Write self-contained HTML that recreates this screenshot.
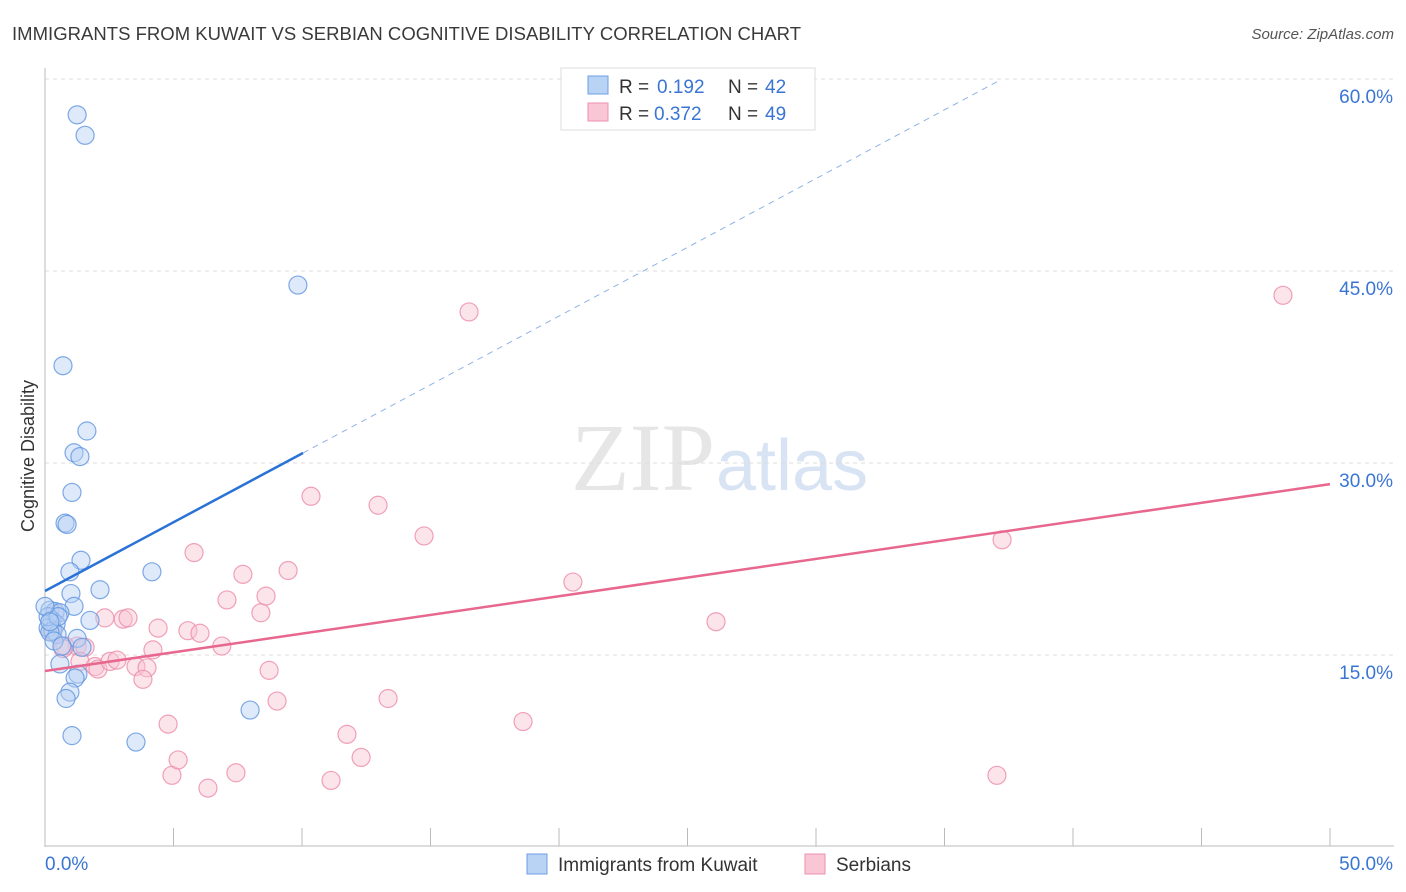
<!DOCTYPE html>
<html><head><meta charset="utf-8"><style>
body{margin:0;background:#fff;font-family:"Liberation Sans",sans-serif;}
svg{display:block}
</style></head><body>
<svg id="c" width="1406" height="892" xmlns="http://www.w3.org/2000/svg">
<text x="12" y="40" font-size="18.5" fill="#3a3a3a" textLength="789">IMMIGRANTS FROM KUWAIT VS SERBIAN COGNITIVE DISABILITY CORRELATION CHART</text>
<text x="1394" y="39" font-size="15" fill="#555" text-anchor="end" font-style="italic">Source: ZipAtlas.com</text>
<text x="715" y="490" font-size="96" fill="#e6e6e6" text-anchor="end" font-family="Liberation Serif">ZIP</text>
<text x="716" y="490" font-size="72" fill="#d8e4f4">atlas</text>
<text x="34" y="456" font-size="18" fill="#333" text-anchor="middle" transform="rotate(-90 34 456)">Cognitive Disability</text>
<g id="grid"></g><g id="marks"></g>
<g>
<rect x="561" y="68" width="254" height="62" fill="#fff" stroke="#ddd"/>
<rect x="588" y="76" width="20" height="18" fill="#b9d3f5" stroke="#6d9ee3"/>
<rect x="588" y="103" width="20" height="18" fill="#f9c6d5" stroke="#ee8fab"/>
<text x="619" y="93" font-size="19" fill="#333">R = </text><text x="657" y="93" font-size="19" fill="#3a75d3">0.192</text>
<text x="728" y="93" font-size="19" fill="#333">N = </text><text x="765" y="93" font-size="19" fill="#3a75d3">42</text>
<text x="619" y="120" font-size="19" fill="#333">R = </text><text x="654" y="120" font-size="19" fill="#3a75d3">0.372</text>
<text x="728" y="120" font-size="19" fill="#333">N = </text><text x="765" y="120" font-size="19" fill="#3a75d3">49</text>
</g>
<g>
<rect x="527" y="854" width="20" height="20" fill="#b9d3f5" stroke="#6d9ee3"/>
<text x="558" y="871" font-size="19" fill="#333">Immigrants from Kuwait</text>
<rect x="805" y="854" width="20" height="20" fill="#f9c6d5" stroke="#ee8fab"/>
<text x="836" y="871" font-size="19" fill="#333">Serbians</text>
</g>
</svg>
<script>
const yTicks=[15,30,45,60];
const xLabels=["0.0%","50.0%"];
const kuwaitX=[1.25,1.56,9.84,0.70,1.63,1.13,1.36,1.05,0.78,0.86,1.40,0.97,4.16,2.14,1.01,1.13,1.75,0.19,0.39,0.58,0.27,0.43,0.12,0.31,0.47,0.19,1.25,1.44,0.58,1.28,1.17,0.97,0.82,1.05,3.54,7.98,0.12,0.51,0.35,0.66,0.0,0.19];
const kuwaitY=[57.2,55.6,43.9,37.6,32.5,30.8,30.5,27.7,25.3,25.2,22.4,21.5,21.5,20.1,19.8,18.8,17.7,18.5,18.4,18.3,17.7,17.4,17.1,16.9,16.6,16.8,16.3,15.6,14.3,13.5,13.2,12.1,11.6,8.7,8.2,10.7,18.0,18.0,16.1,15.7,18.8,17.6];
const serbX=[1.25,0.78,1.56,0.70,1.36,1.95,2.06,2.53,2.80,2.33,3.04,3.23,3.54,3.97,3.81,4.20,4.40,4.79,4.94,5.18,5.56,5.80,6.03,6.34,6.88,7.08,7.43,7.70,8.40,8.60,8.72,9.03,9.46,10.35,11.13,11.75,12.30,12.96,13.35,14.75,16.50,18.60,20.54,26.11,37.04,37.24,48.17,0.39,0.27];
const serbY=[15.7,15.7,15.6,15.5,14.5,14.1,13.9,14.5,14.6,17.9,17.8,17.9,14.1,14.0,13.1,15.4,17.1,9.6,5.6,6.8,16.9,23.0,16.7,4.6,15.7,19.3,5.8,21.3,18.3,19.6,13.8,11.4,21.6,27.4,5.2,8.8,7.0,26.7,11.6,24.3,41.8,9.8,20.7,17.6,5.6,24.0,43.1,18.2,16.8];
const kLine=[20.0,1.074], sLine=[13.75,0.292];
const X=v=>45+v/50*1285, Y=v=>847-v/15*192;
const ns="http://www.w3.org/2000/svg";
function mk(t,a,p){const e=document.createElementNS(ns,t);for(const k in a)e.setAttribute(k,a[k]);p.appendChild(e);return e;}
const g=document.getElementById('grid'), m=document.getElementById('marks');
yTicks.forEach(t=>{const l=mk('line',{x1:45,x2:1394,y1:Y(t),y2:Y(t),stroke:'#ddd','stroke-dasharray':'4,4'},g);


const tx=mk('text',{x:1393,y:Y(t)+24,'font-size':19,fill:'#3a75d3','text-anchor':'end'},g);tx.textContent=t.toFixed(1)+'%';

});
mk('line',{x1:45,x2:45,y1:68,y2:847,stroke:'#bbb'},g);
mk('line',{x1:45,x2:1394,y1:846,y2:846,stroke:'#bbb'},g);
for(let i=0;i<=10;i++){mk('line',{x1:X(i*5),x2:X(i*5),y1:828,y2:846,stroke:'#bbb'},g);}
xLabels.forEach((s,i)=>{const tx=mk('text',{x:i?1393:45,y:870,'font-size':19,fill:'#3a75d3','text-anchor':i?'end':'start'},g);tx.textContent=s;

});
function dots(xs,ys,f,s,n){xs.forEach((x,i)=>{const c=mk('circle',{cx:X(x),cy:Y(ys[i]),r:9,fill:f,'fill-opacity':0.45,stroke:s,'stroke-opacity':0.8,'stroke-width':1.2},m);

});}
dots(serbX,serbY,'#f9c3d3','#ec8ba9','serbians-point');
dots(kuwaitX,kuwaitY,'#b6d0f3','#5f95e0','kuwait-point');
const xe=(303-45)/1285*50, xd=(998-45)/1285*50;
let l=mk('line',{x1:X(0),y1:Y(kLine[0]),x2:X(xe),y2:Y(kLine[0]+kLine[1]*xe),stroke:'#2a72d6','stroke-width':2.5},m);


l=mk('line',{x1:X(xe),y1:Y(kLine[0]+kLine[1]*xe),x2:X(xd),y2:Y(kLine[0]+kLine[1]*xd),stroke:'#8fb3e6','stroke-width':1,'stroke-dasharray':'6,5'},m);


l=mk('line',{x1:X(0),y1:Y(sLine[0]),x2:X(50),y2:Y(sLine[0]+sLine[1]*50),stroke:'#e8678f','stroke-width':2.5},m);


</script>
</body></html>
